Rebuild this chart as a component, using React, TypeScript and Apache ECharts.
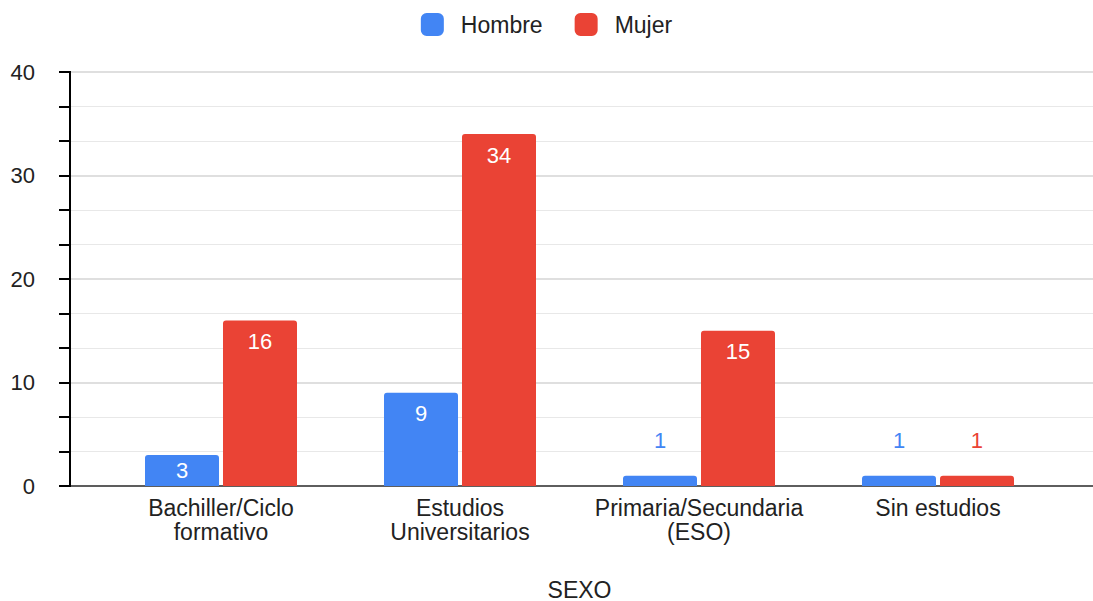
import React, { useEffect, useRef } from "react";
import * as echarts from "echarts";

const categories = [
  "Bachiller/Ciclo\nformativo",
  "Estudios\nUniversitarios",
  "Primaria/Secundaria\n(ESO)",
  "Sin estudios",
];
const hombre = [3, 9, 1, 1];
const mujer = [16, 34, 15, 1];
const seriesNames = ["Hombre", "Mujer"];
const yMin = 0;
const yMax = 40;
const yInterval = 10;
const xAxisName = "SEXO";

const BLUE = "#4285f4";
const RED = "#ea4335";
const FONT = "'Liberation Sans', Arial, sans-serif";

function makeData(values: number[], color: string) {
  return values.map((v) => {
    let label: any;
    if (v >= 5) {
      label = { position: "insideTop", distance: 10, color: "#fff" };
    } else if (v >= 2) {
      label = { position: "inside", color: "#fff" };
    } else {
      label = { position: "top", distance: 24, color };
    }
    return { value: v, label };
  });
}

export default function App() {
  const ref = useRef<HTMLDivElement>(null);
  useEffect(() => {
    if (!ref.current) return;
    const chart = echarts.init(ref.current, null, { renderer: "svg" });
    const gridTop = 72;
    const gridBottom = 115;
    const option: any = {
      animation: false,
      textStyle: { fontFamily: FONT },
      legend: {
        top: 8,
        left: "center",
        itemWidth: 23,
        itemHeight: 23,
        itemGap: 32,
        icon: "roundRect",
        textStyle: { fontSize: 23, color: "#222", fontFamily: FONT, padding: [0, 0, 0, 12] },
        data: seriesNames,
      },
      grid: [
        { left: 70, right: 0, top: gridTop, bottom: gridBottom, outerBoundsMode: "none" },
        { left: 101.5, right: 35.5, top: gridTop, bottom: gridBottom, outerBoundsMode: "none" },
      ],
      xAxis: [
        {
          gridIndex: 0,
          type: "value",
          min: 0,
          max: 1,
          axisLine: { show: true, lineStyle: { color: "#333", width: 1.5 } },
          axisTick: { show: false },
          axisLabel: { show: false },
          splitLine: { show: false },
        },
        {
          gridIndex: 1,
          type: "category",
          data: categories,
          axisLine: { show: false },
          axisTick: { show: false },
          axisLabel: {
            margin: 10,
            fontSize: 23,
            lineHeight: 24,
            color: "#222",
            fontFamily: FONT,
            interval: 0,
          },
          name: xAxisName,
          nameLocation: "middle",
          nameGap: 92,
          nameTextStyle: { fontSize: 23, color: "#222", fontFamily: FONT },
        },
      ],
      yAxis: [
        {
          gridIndex: 0,
          type: "value",
          position: "left",
          offset: 11,
          min: yMin,
          max: yMax,
          interval: yInterval,
          axisLine: { show: true, lineStyle: { color: "#000", width: 2 } },
          axisTick: { show: true, length: 11, lineStyle: { color: "#000", width: 2 } },
          minorTick: { show: true, splitNumber: 3, length: 6, lineStyle: { color: "#000", width: 2 } },
          axisLabel: { margin: 24, fontSize: 22, color: "#222", fontFamily: FONT },
          splitLine: { show: true, lineStyle: { color: "#d4d4d4", width: 1.5 } },
          minorSplitLine: { show: true, lineStyle: { color: "#e8e8e8", width: 1 } },
        },
        {
          gridIndex: 0,
          type: "value",
          position: "left",
          offset: 11,
          min: yMin,
          max: yMax,
          interval: yInterval,
          axisLine: { show: false },
          axisTick: { show: true, inside: true, length: 12, lineStyle: { color: "#000", width: 2 } },
          minorTick: { show: true, splitNumber: 3, length: 6, lineStyle: { color: "#000", width: 2 } },
          axisLabel: { show: false },
          splitLine: { show: false },
          minorSplitLine: { show: false },
        },
        {
          gridIndex: 1,
          type: "value",
          min: yMin,
          max: yMax,
          interval: yInterval,
          show: false,
        },
      ],
      series: [
        {
          name: seriesNames[0],
          type: "bar",
          xAxisIndex: 1,
          yAxisIndex: 2,
          barWidth: 74,
          barGap: "5.4%",
          itemStyle: { color: BLUE, borderRadius: [3, 3, 0, 0] },
          label: { show: true, fontSize: 22, fontFamily: FONT },
          data: makeData(hombre, BLUE),
        },
        {
          name: seriesNames[1],
          type: "bar",
          xAxisIndex: 1,
          yAxisIndex: 2,
          barWidth: 74,
          barGap: "5.4%",
          itemStyle: { color: RED, borderRadius: [3, 3, 0, 0] },
          label: { show: true, fontSize: 22, fontFamily: FONT },
          data: makeData(mujer, RED),
        },
      ],
    };
    chart.setOption(option);
    return () => chart.dispose();
  }, []);
  return <div ref={ref} style={{ width: 1093, height: 601, position: "absolute", left: 0, top: 0 }} />;
}
